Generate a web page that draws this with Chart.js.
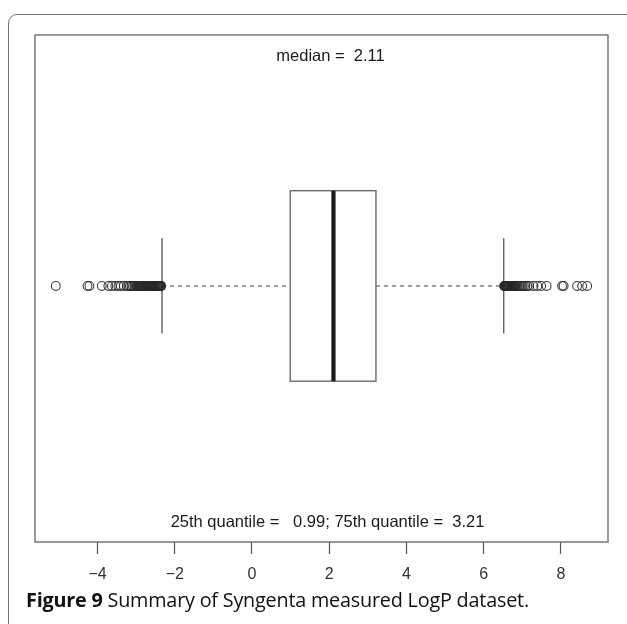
<!DOCTYPE html>
<html>
<head>
<meta charset="utf-8">
<script src="https://cdn.jsdelivr.net/npm/chart.js@4"></script>
<style>
  html, body { margin: 0; padding: 0; background: #fff; width: 627px; height: 624px; overflow: hidden; }
  #frame { position: absolute; left: 8px; top: 14px; width: 700px; height: 700px;
           border: 1.5px solid #777; border-radius: 9px 0 0 0; box-sizing: border-box; }
  #wrap { position: absolute; left: 0; top: 0; width: 627px; height: 624px; }
  #caption { position: absolute; left: 26px; top: 586px; font-family: "Open Sans", "Noto Sans", sans-serif;
             font-size: 19.8px; color: #111; white-space: nowrap; letter-spacing: -0.2px; }
  #caption b { font-weight: 700; }
</style>
</head>
<body>
<div id="frame"></div>
<div id="wrap"><canvas id="c" width="627" height="624"></canvas></div>
<div id="caption"><b>Figure 9</b> Summary of Syngenta measured LogP dataset.</div>
<script>
// ---- data ----
const q1 = 0.99;
const median = 2.11;
const q3 = 3.21;
const whiskerLow = -2.33;
const whiskerHigh = 6.52;
const lowOutliers = [-5.08, -4.26, -4.21, -3.89, -3.72, -3.63, -3.54, -3.46, -3.40, -3.32,
  -3.24, -3.20, -3.16, -3.12, -3.08, -3.04, -3.00, -2.97, -2.95, -2.94, -2.92, -2.91, -2.89,
  -2.88, -2.86, -2.85, -2.83, -2.82, -2.80, -2.79, -2.77, -2.76, -2.74, -2.73, -2.71, -2.70,
  -2.68, -2.67, -2.65, -2.64, -2.62, -2.61, -2.59, -2.58, -2.56, -2.55, -2.53, -2.52, -2.50,
  -2.49, -2.47, -2.46, -2.44, -2.43, -2.42, -2.41, -2.40, -2.38, -2.37, -2.36, -2.35];
const highOutliers = [6.53, 6.54, 6.55, 6.56, 6.57, 6.58, 6.59, 6.60, 6.61, 6.62, 6.63, 6.64,
  6.65, 6.66, 6.68, 6.69, 6.70, 6.72, 6.73, 6.75, 6.76, 6.78, 6.79, 6.81, 6.82, 6.85, 6.88,
  6.92, 6.96, 7.00, 7.04, 7.08, 7.13, 7.18, 7.29, 7.39, 7.49, 7.63,
  8.03, 8.07, 8.42, 8.55, 8.68];
const tickValues = [-4, -2, 0, 2, 4, 6, 8];
const topText = "median =  " + median.toFixed(2);
const bottomText = "25th quantile =   " + q1.toFixed(2) + "; 75th quantile =  " + q3.toFixed(2);

const outlierPoints = lowOutliers.concat(highOutliers).map(v => ({ x: v, y: 0 }));

const boxPlugin = {
  id: 'boxPlugin',
  beforeDatasetsDraw(chart) {
    const ctx = chart.ctx;
    const xs = chart.scales.x, ys = chart.scales.y;
    const ca = chart.chartArea;
    const yc = ys.getPixelForValue(0);
    const yTop = ys.getPixelForValue(0.372), yBot = ys.getPixelForValue(-0.372);
    const sTop = ys.getPixelForValue(0.186), sBot = ys.getPixelForValue(-0.186);
    const xq1 = xs.getPixelForValue(q1), xq3 = xs.getPixelForValue(q3);
    const xm = xs.getPixelForValue(median);
    const xwl = xs.getPixelForValue(whiskerLow), xwh = xs.getPixelForValue(whiskerHigh);
    ctx.save();
    // plot frame
    ctx.strokeStyle = '#666'; ctx.lineWidth = 1.3;
    ctx.strokeRect(ca.left, ca.top, ca.right - ca.left, ca.bottom - ca.top);
    // dashed whiskers
    ctx.setLineDash([4, 4]); ctx.strokeStyle = '#444'; ctx.lineWidth = 1;
    ctx.beginPath();
    ctx.moveTo(xwl, yc); ctx.lineTo(xq1, yc);
    ctx.moveTo(xq3, yc); ctx.lineTo(xwh, yc);
    ctx.stroke();
    ctx.setLineDash([]);
    // staples
    ctx.strokeStyle = '#555'; ctx.lineWidth = 1.3;
    ctx.beginPath();
    ctx.moveTo(xwl, sTop); ctx.lineTo(xwl, sBot);
    ctx.moveTo(xwh, sTop); ctx.lineTo(xwh, sBot);
    ctx.stroke();
    // box
    ctx.strokeStyle = '#6a6a6a'; ctx.lineWidth = 1.4;
    ctx.strokeRect(xq1, yTop, xq3 - xq1, yBot - yTop);
    // median
    ctx.strokeStyle = '#1a1a1a'; ctx.lineWidth = 4.2;
    ctx.beginPath(); ctx.moveTo(xm, yTop); ctx.lineTo(xm, yBot); ctx.stroke();
    // texts
    ctx.fillStyle = '#1a1a1a';
    ctx.font = '16.5px "Liberation Sans", Arial, sans-serif';
    ctx.textAlign = 'center'; ctx.textBaseline = 'middle';
    const cx = (ca.left + ca.right) / 2 + 9;
    ctx.fillText(topText, cx, ca.top + 21);
    ctx.fillText(bottomText, cx - 3, ca.bottom - 20);
    ctx.restore();
  }
};

new Chart(document.getElementById('c'), {
  type: 'scatter',
  data: {
    datasets: [{
      data: outlierPoints,
      pointStyle: 'circle',
      pointRadius: 4.4,
      pointBorderWidth: 1.1,
      borderColor: 'rgba(40,40,40,0.9)',
      backgroundColor: 'rgba(0,0,0,0)'
    }]
  },
  options: {
    responsive: false,
    animation: false,
    events: [],
    layout: { padding: { left: 35, right: 19, top: 35, bottom: 0 } },
    plugins: { legend: { display: false }, tooltip: { enabled: false } },
    scales: {
      x: {
        type: 'linear',
        min: -5.62, max: 9.22,
        afterBuildTicks(scale) { scale.ticks = tickValues.map(v => ({ value: v })); },
        afterFit(scale) { scale.height = 82; },
        border: { display: false },
        grid: { drawOnChartArea: false, drawTicks: true, tickLength: 12, color: '#555', tickWidth: 1.2 },
        ticks: {
          padding: 11,
          color: '#333',
          font: { family: '"Liberation Sans", Arial, sans-serif', size: 16 },
          callback: v => (v < 0 ? '\u2212' + Math.abs(v) : String(v)),
          maxRotation: 0
        }
      },
      y: {
        type: 'linear',
        min: -1.0, max: 0.98,
        display: false
      }
    }
  },
  plugins: [boxPlugin]
});
</script>
</body>
</html>
